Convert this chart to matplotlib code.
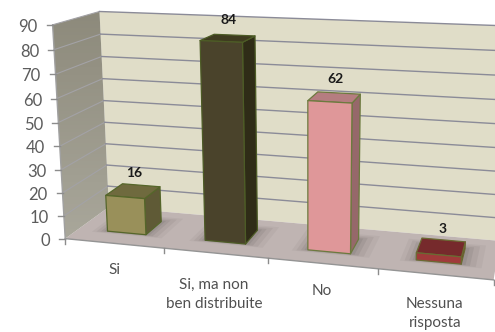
import numpy as np
import matplotlib
matplotlib.use("Agg")
import matplotlib.pyplot as plt
from matplotlib.patches import Polygon

plt.rcParams['font.family'] = ['Lato', 'DejaVu Sans']

categories = ["Si", "Si, ma non\nben distribuite", "No", "Nessuna\nrisposta"]
values = [16, 84, 62, 3]
z_ticks = [0, 10, 20, 30, 40, 50, 60, 70, 80, 90]

front_colors = ["#99905a", "#4a432b", "#df9799", "#a03a3a"]
top_colors = ["#6f6a3e", "#3f3b20", "#b57d80", "#762a2c"]
side_colors = ["#5f5a36", "#2f2c17", "#96686a", "#5e2224"]
edge_colors = ["#55662a", "#4d5c26", "#6c7a3e", "#6a6a32"]

# Camera calibration: (category position, depth, height) -> canvas pixel
calibration = [
    (0, 0, 0, 66, 238), (1, 0, 0, 164, 248), (2, 0, 0, 268, 258),
    (3, 0, 0, 378, 269), (4, 0, 0, 493, 281),
    (0, 0, 90, 52, 25), (0, 0, 50, 58, 122),
    (0, 1, 0, 108, 208), (0, 1, 90, 100, 12), (0, 1, 50, 104, 100),
    (4, 1, 0, 500, 240), (4, 1, 90, 510, 26), (4, 1, 50, 505, 124),
]


def fit_camera(rows):
    eqs = []
    for x, d, z, u, v in rows:
        w = [x, d, z / 10, 1]
        eqs.append(w + [0, 0, 0, 0] + [-u * c for c in w])
        eqs.append([0, 0, 0, 0] + w + [-v * c for c in w])
    _, _, vt = np.linalg.svd(np.array(eqs, float))
    return vt[-1].reshape(3, 4)


P = fit_camera(calibration)


def project(x, d, z):
    q = P @ np.array([x, d, z / 10, 1.0])
    return q[0] / q[2], q[1] / q[2]


def quad(*corners):
    return [project(*c) for c in corners]


fig = plt.figure(figsize=(4.95, 3.32), dpi=100, facecolor="white")
ax = fig.add_axes([0, 0, 1, 1])
ax.set_xlim(0, 495)
ax.set_ylim(332, 0)
ax.axis("off")

# Back wall, floor and shaded side wall
ax.add_patch(Polygon(quad((0, 1, 0), (4.2, 1, 0), (4.2, 1, 90), (0, 1, 90)),
                     fc="#e0ddc8", ec="none", zorder=1))
ax.add_patch(Polygon(quad((0, 0, 0), (4, 0, 0), (4, 1, 0), (0, 1, 0)),
                     fc="#bfb4b2", ec="none", zorder=2))
wall = Polygon(quad((0, 0, 0), (0, 1, 0), (0, 1, 90), (0, 0, 90)), fc="none", ec="none")
ax.add_patch(wall)
gradient = ax.imshow(np.linspace(0, 1, 64).reshape(-1, 1),
                     cmap=matplotlib.colors.LinearSegmentedColormap.from_list(
                         "wall", ["#8d8a7b", "#a9a79b"]),
                     extent=(40, 120, 240, 10), aspect="auto", zorder=2)
gradient.set_clip_path(wall)
ax.set_xlim(0, 495)
ax.set_ylim(332, 0)

# Gridlines over both walls
for z in z_ticks[1:]:
    (x0, y0), (x1, y1), (x2, y2) = project(0, 0, z), project(0, 1, z), project(4.2, 1, z)
    ax.plot([x0, x1], [y0, y1], color="#a3a2a6", lw=0.8, zorder=3)
    ax.plot([x1, x2], [y1, y2], color="#8b8b98", lw=1.0, zorder=3)

# Axis lines and tick marks
ax.plot(*zip(project(0, 0, 0), project(4, 0, 0)), color="#949494", lw=1.0, zorder=4)
ax.plot(*zip(project(0, 0, 0), project(0, 0, 90)), color="#a0a0a0", lw=1.0, zorder=4)
for i in range(len(categories) + 1):
    u, v = project(i, 0, 0)
    ax.plot([u, u], [v, v + 5], color="#8c8c8c", lw=1.0, zorder=4)
for z in z_ticks:
    u, v = project(0, 0, z)
    ax.plot([u - 6, u], [v, v], color="#8c8c8c", lw=1.0, zorder=4)
    ax.text(u - 15, v + 2, str(z), ha="right", va="center", fontsize=12,
            color="#5c5c5c", zorder=6)

# Category labels sit below the floor edge, stepping down with the perspective
label_drop = [27, 41, 28, 39]
label_shift = [1, -1, 0, 0]
for i, label in enumerate(categories):
    u, v = project(i + 0.5, 0, 0)
    ax.text(u + label_shift[i], v + label_drop[i], label, ha="center", va="center",
            fontsize=11, color="#505050", linespacing=1.45, zorder=6)

# Bars
bar_left, bar_right = 0.3, 0.7
depth_front, depth_back = 0.3, 0.7
for i, val in enumerate(values):
    x0, x1 = i + bar_left, i + bar_right
    d0, d1 = depth_front, depth_back

    # soft shadow on the floor
    for grow, alpha in [(0.14, 0.05), (0.10, 0.07), (0.06, 0.09), (0.03, 0.10)]:
        ax.add_patch(Polygon(quad((x0 - grow, d0 - grow * 0.4, 0),
                                  (x1 + grow * 1.3, d0 - grow * 0.4, 0),
                                  (x1 + grow * 1.3, d1 + grow, 0),
                                  (x0 - grow, d1 + grow, 0)),
                             fc="#3c3838", alpha=alpha, ec="none", zorder=5))

    style = dict(ec=edge_colors[i], lw=0.9, joinstyle="round", zorder=5 + 0.1 * i)
    ax.add_patch(Polygon(quad((x1, d0, 0), (x1, d1, 0), (x1, d1, val), (x1, d0, val)),
                         fc=side_colors[i], **style))
    ax.add_patch(Polygon(quad((x0, d0, val), (x1, d0, val), (x1, d1, val), (x0, d1, val)),
                         fc=top_colors[i], **style))
    ax.add_patch(Polygon(quad((x0, d0, 0), (x1, d0, 0), (x1, d0, val), (x0, d0, val)),
                         fc=front_colors[i], **style))

    u, v = project(i + 0.5, 0.5, val)
    ax.text(u + 1, v - 18, str(val), ha="center", va="center", fontsize=10,
            fontweight="bold", color="#1a1a1a", zorder=7)

fig.savefig("out.png", dpi=100, facecolor="white")
